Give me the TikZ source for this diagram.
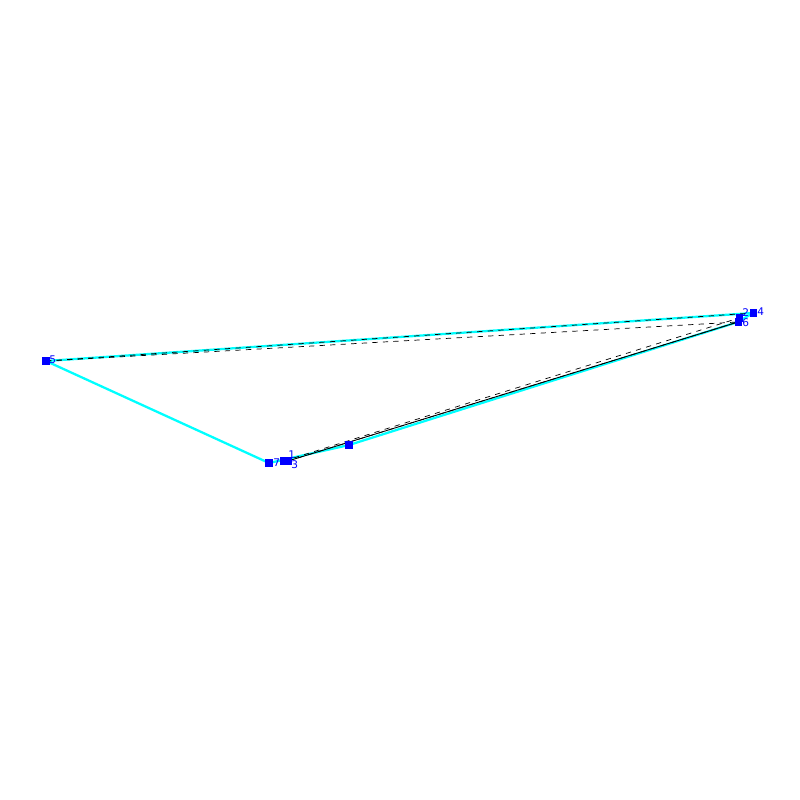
\documentclass[tikz,border=0pt]{standalone}
\usepackage{fontspec}
\setmainfont{DejaVu Sans}
\definecolor{cyn}{RGB}{0,255,255}
\definecolor{blu}{RGB}{0,0,255}
\begin{document}
\begin{tikzpicture}[x=0.02cm,y=-0.02cm,
  pt/.style={fill=blu,inner sep=0pt,minimum size=4pt,draw=none,rectangle},
  lbl/.style={text=blu,font=\fontsize{6}{7}\selectfont,inner sep=0pt,anchor=west},
  cy/.style={cyn,line width=1.3pt},
  dsh/.style={black,dashed,line width=0.4pt},
  sol/.style={black,line width=0.5pt}]
\useasboundingbox (0,0) rectangle (800,800);
\node[pt] (n4) at (753,313) {};
\node[pt] (n2) at (739,318) {};
\node[pt] (n6) at (738,322) {};
\node[pt] (n5) at (46,361) {};
\node[pt] (n7) at (269,463) {};
\node[pt] (n1) at (284,461) {};
\node[pt] (n3) at (288,461) {};
\node[pt] (n8) at (349,445) {};
\draw[cy] (n5.center) -- (n4.center);
\draw[cy] (n5.center) -- (n7.center);
\draw[cy] (n7.center) -- (n8.center) -- (n6.center);
\draw[cy] (n4.center) -- (n6.center);
\draw[dsh] (n5.center) -- (n4.center);
\draw[dsh] (n5.center) -- (n6.center);
\draw[dsh] (n1.center) -- (n2.center);
\draw[dsh] (n3.center) -- (n6.center);
\draw[sol] (n3.center) -- (n6.center);
\node[pt] at (n4) {};
\node[pt] at (n2) {};
\node[pt] at (n6) {};
\node[pt] at (n5) {};
\node[pt] at (n7) {};
\node[pt] at (n1) {};
\node[pt] at (n3) {};
\node[pt] at (n8) {};
\node[lbl] (l4) at (757,312) {4};
\node[lbl] (l2) at (742,313) {2};
\node[lbl] (l6) at (742,323) {6};
\node[lbl] (l5) at (49,360) {5};
\node[lbl] (l7) at (273,463) {7};
\node[lbl] (l1) at (288,455) {1};
\node[lbl] (l3) at (291,465) {3};
\end{tikzpicture}
\end{document}
